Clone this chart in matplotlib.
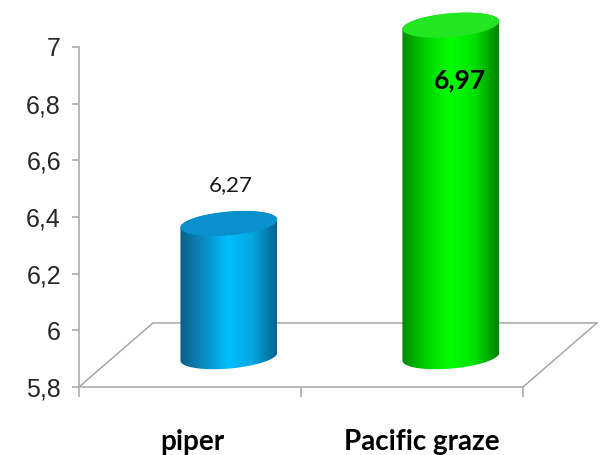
import numpy as np
import matplotlib
matplotlib.use("Agg")
import matplotlib.pyplot as plt
from matplotlib.colors import LinearSegmentedColormap
from matplotlib.patches import Polygon
from matplotlib.ticker import FuncFormatter

categories = ["piper", "Pacific graze"]
values = [6.27, 6.97]
value_labels = ["6,27", "6,97"]
yticks = [5.8, 6.0, 6.2, 6.4, 6.6, 6.8, 7.0]

base = 5.8
# 3d look, all in data units
depth_x, depth_y = 0.333, 0.226
bar_dx, bar_dy = 0.175, 0.107
half_w = 0.218
ell_h = 0.042
shear = 0.014

side_colors = [["#0b5f86", "#0a8cc4", "#00bfff", "#05a6e0", "#05648f"],
               ["#008a00", "#00d400", "#00ff00", "#00e000", "#008400"]]
top_colors = ["#0a90cc", "#22e622"]
grid_col = "#a6a6a6"


def ellipse_pts(cx, cy, t):
    return cx + half_w * np.cos(t), cy + ell_h * np.sin(t) + shear * np.cos(t)


fig = plt.figure(figsize=(6, 4.55), dpi=100)
ax = fig.add_axes([79 / 600, 68 / 455, 444 / 600, 340 / 455])

# floor
ax.plot([0, depth_x, 2 + depth_x], [base, base + depth_y, base + depth_y],
        color=grid_col, lw=1.1, clip_on=False, zorder=1)
ax.plot([2, 2 + depth_x], [base, base + depth_y],
        color=grid_col, lw=1.1, clip_on=False, zorder=1)

for i, v in enumerate(values):
    cx = i + 0.5 + bar_dx
    yb = base + bar_dy
    yt = v + bar_dy
    t1 = np.linspace(np.pi, 2 * np.pi, 60)
    t2 = np.linspace(0, np.pi, 60)
    bx, by = ellipse_pts(cx, yb, t1)
    tx, ty = ellipse_pts(cx, yt, t2)
    body = Polygon(np.column_stack([np.r_[bx, tx], np.r_[by, ty]]),
                   closed=True, facecolor="none", edgecolor="none")
    ax.add_patch(body)
    cmap = LinearSegmentedColormap.from_list("c%d" % i, side_colors[i])
    grad = np.linspace(0, 1, 200).reshape(1, -1)
    im = ax.imshow(grad, cmap=cmap, aspect="auto", zorder=2,
                   extent=[cx - half_w, cx + half_w, yb - 0.1, yt + 0.1],
                   interpolation="bilinear")
    im.set_clip_path(body)
    im.set_clip_box(fig.bbox)
    tt = np.linspace(0, 2 * np.pi, 120)
    ex, ey = ellipse_pts(cx, yt, tt)
    ax.add_patch(Polygon(np.column_stack([ex, ey]), closed=True,
                         facecolor=top_colors[i], edgecolor="none", zorder=3,
                         clip_on=False))

ax.text(0.5 + bar_dx + 0.01, values[0] + bar_dy + 0.135, value_labels[0],
        ha="center", va="center", fontsize=16, family="Lato", color="#1a1a1a")
ax.text(1.5 + bar_dx + 0.04, values[1] - 0.086, value_labels[1],
        ha="center", va="center", fontsize=19, family="Lato",
        fontweight="bold", color="black", zorder=4)

ax.set_xlim(0, 2)
ax.set_ylim(5.8, 7.0)
ax.set_yticks(yticks)
ax.yaxis.set_major_formatter(FuncFormatter(lambda y, p: ("%g" % y).replace(".", ",")))
ax.set_xticks([0, 1, 2])
ax.set_xticklabels([])
ax.set_xticks([0.51, 1.545], minor=True)
ax.set_xticklabels(categories, minor=True, fontsize=20, family="Lato",
                   fontweight="bold", color="black")
ax.tick_params(axis="x", which="minor", length=0, pad=30)
ax.tick_params(axis="x", which="major", length=7.5, color=grid_col, width=1.1)
ax.tick_params(axis="y", length=5, color=grid_col, width=1.1, pad=8,
               labelsize=18, labelcolor="#262626")
for lab in ax.get_yticklabels():
    lab.set_family("Liberation Sans")

for s in ["top", "right"]:
    ax.spines[s].set_visible(False)
for s in ["left", "bottom"]:
    ax.spines[s].set_color(grid_col)
    ax.spines[s].set_linewidth(1.1)
ax.patch.set_alpha(0)

fig.savefig("out.png", dpi=100)
